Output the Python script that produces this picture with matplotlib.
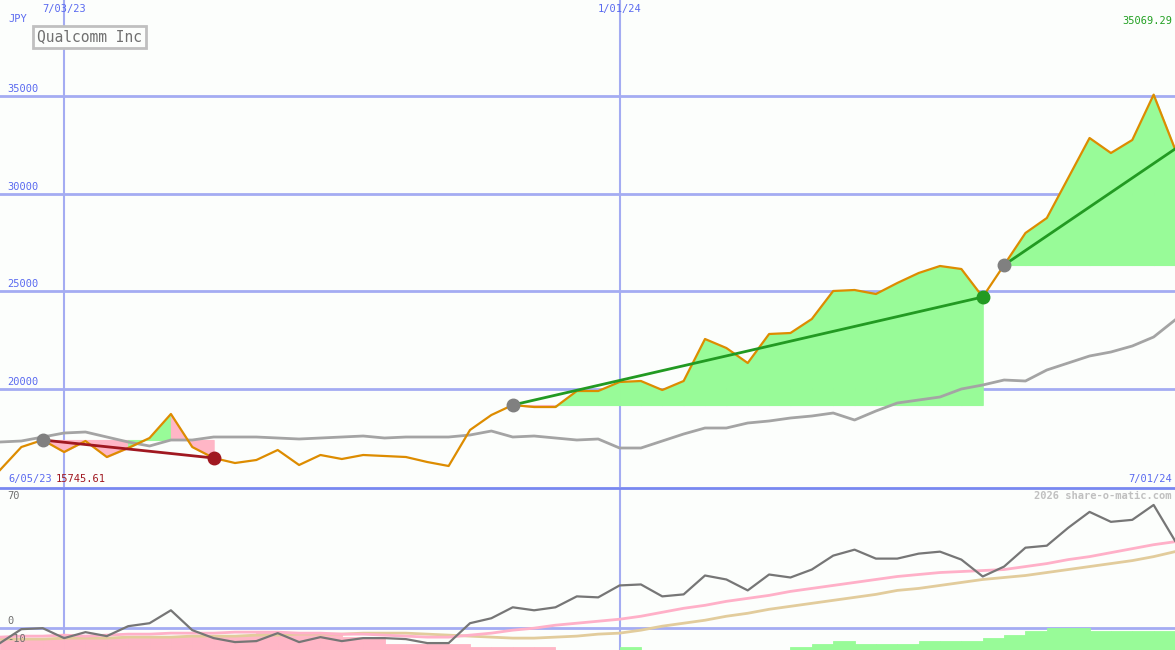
import numpy as np
import matplotlib.pyplot as plt

# weekly closes, week 0 = first visible week
price = [15854, 17032, 17391, 16776, 17339, 16520, 16981, 17493, 18722, 17032,
         16469, 16213, 16367, 16879, 16111, 16623, 16418, 16623, 16572, 16520,
         16264, 16060, 17903, 18670, 19182, 19080, 19080, 19899, 19899, 20360,
         20411, 19950, 20411, 22561, 22100, 21332, 22817, 22868, 23585, 25018,
         25069, 24864, 25427, 25939, 26298, 26144, 24711, 26349, 27987, 28755,
         30802, 32850, 32082, 32748, 35069, 32287]

avg_px = [442, 441, 437, 433, 432, 437, 442, 446, 440, 440, 437, 437, 437, 438,
          439, 438, 437, 436, 438, 437, 437, 437, 435, 431, 437, 436, 438, 440,
          439, 448, 448, 441, 434, 428, 428, 423, 421, 418, 416, 413, 420, 411,
          403, 400, 397, 389, 385, 380, 381, 370, 363, 356, 352, 346, 337, 320]
avg = [35000 - (p - 96) * 51.19 for p in avg_px]

# lower panel
rel_px = [643, 629, 628, 638, 632, 636, 626, 623, 610, 630, 638, 642, 641, 633,
          642, 637, 641, 638, 638, 639, 643, 643, 623, 618, 607, 610, 607, 596,
          597, 585, 584, 596, 594, 575, 579, 590, 574, 577, 569, 555, 549, 558,
          558, 553, 551, 559, 576, 566, 547, 545, 527, 511, 521, 519, 504, 540]
pink_px = [637, 636, 636, 635, 636, 635, 634, 634, 633, 633, 633, 632, 632, 632,
           633, 633, 634, 634, 635, 636, 637, 637, 635, 633, 630, 628, 625, 623,
           621, 619, 616, 612, 608, 605, 601, 598, 595, 591, 588, 585, 582, 579,
           576, 574, 572, 571, 570, 569, 566, 563, 559, 556, 552, 548, 544, 541]
tan_px = [639, 639, 639, 638, 638, 638, 637, 637, 637, 636, 636, 636, 635, 635,
          634, 634, 634, 633, 633, 633, 634, 635, 636, 637, 638, 638, 637, 636,
          634, 633, 630, 626, 623, 620, 616, 613, 609, 606, 603, 600, 597, 594,
          590, 588, 585, 582, 579, 577, 575, 572, 569, 566, 563, 560, 556, 551]
bar_px = [640, 639, 638, 638, 638, 638, 638, 637, 637, 636, 636, 635, 633, 633,
          633, 633, 637, 637, 644, 644, 644, 644, 647, 647, 647, 647, 650, 650,
          650, 647, 650, 650, 650, 650, 650, 650, 650, 647, 644, 641, 644, 644,
          644, 641, 641, 641, 638, 635, 631, 628, 628, 631, 631, 631, 631, 631]
bar_up = [False] * 26 + [True] * 30
rel = [(628 - p) / 1.8 for p in rel_px]
ma1 = [(628 - p) / 1.8 for p in pink_px]
ma2 = [(628 - p) / 1.8 for p in tan_px]
bars = [(628 - p) / 1.8 for p in bar_px]

# trend segments: start week, end week
segments = [(2, 10), (24, 46), (47, 55)]
vlines = [3, 29]
vlabels = ['7/03/23', '1/01/24']

bg = '#fcfefc'
blue = '#a4acf2'
green_fill = '#98fb98'
pink_fill = '#ffb6c6'

fig = plt.figure(figsize=(11.75, 6.5), dpi=100, facecolor=bg)
ax = fig.add_axes([0, 1 - 487 / 650, 1, 487 / 650])
ax2 = fig.add_axes([0, 0, 1, 161 / 650])
x = np.arange(len(price))

for a in (ax, ax2):
    a.set_facecolor(bg)
    a.set_xlim(0, 55)
    for s in a.spines.values():
        s.set_visible(False)
    a.set_xticks([])
    a.set_yticks([])
    for v in vlines:
        a.axvline(v, color=blue, lw=1.5, zorder=1)

ax.set_ylim(14985, 39914)
for lvl in [20000, 25000, 30000, 35000]:
    ax.axhline(lvl, color=blue, lw=2, zorder=1)
    ax.text(7 / 1175 * 55, lvl + 100, str(lvl), color='#5a6af0', fontsize=7.5,
            family='DejaVu Sans Mono', va='bottom')

p = np.array(price, dtype=float)
for s, e in segments:
    base = p[s]
    for i in range(s, e):
        col = green_fill if p[i + 1] > base else pink_fill
        ax.fill_between(x[i:i + 2], p[i:i + 2], base, facecolor=col,
                        edgecolor=col, lw=0.8, zorder=2)

ax.plot(x, avg, color='#a4a4a4', lw=2, zorder=3)
ax.plot(x, price, color='#dd8c00', lw=1.6, zorder=4)

for s, e in segments:
    up = p[e] > p[s]
    lc = '#229a22' if up else '#a01820'
    ax.plot([s, e], [p[s], p[e]], color=lc, lw=2, zorder=5)
    ax.plot(s, p[s], 'o', color='#808080', ms=9, zorder=6)
    if e < 55:
        ax.plot(e, p[e], 'o', color=lc, ms=9, zorder=6)

mono = 'DejaVu Sans Mono'
fig.text(8 / 1175, 1 - 19 / 650, 'JPY', color='#5a6af0', fontsize=7.5,
         family=mono, va='center')
for v, lab in zip(vlines, vlabels):
    px = v / 55 * 1175
    fig.text(px / 1175, 1 - 9 / 650, lab, color='#5a6af0', fontsize=7.5,
             family=mono, ha='center', va='center')
fig.text(1172 / 1175, 1 - 21 / 650, '35069.29', color='#22a022', fontsize=7.5,
         family=mono, ha='right', va='center')
fig.text(37 / 1175, 1 - 37 / 650, 'Qualcomm Inc', color='#707070', fontsize=10.5,
         family=mono, va='center',
         bbox=dict(boxstyle='square,pad=0.25', fc=bg, ec='#c0c0c0', lw=2))
fig.text(8 / 1175, 1 - 479 / 650, '6/05/23', color='#5a6af0', fontsize=7.5,
         family=mono, va='center')
fig.text(56 / 1175, 1 - 479 / 650, '15745.61', color='#a01820', fontsize=7.5,
         family=mono, va='center')
fig.text(1172 / 1175, 1 - 479 / 650, '7/01/24', color='#5a6af0', fontsize=7.5,
         family=mono, va='center', ha='right')

# separator
fig.add_artist(plt.Line2D([0, 1], [1 - 487.5 / 650] * 2, color='#7888f0', lw=2))

ax2.set_ylim(-12.2, 77.8)
ax2.axhline(0, color=blue, lw=2, zorder=1)
bcol = ['#98fb98' if u else '#ffb6c6' for u in bar_up]
ax2.bar(x, np.array(bars) + 12.2, bottom=-12.2, width=1, align='edge',
        color=bcol, edgecolor=bcol, lw=0.6, zorder=2)
ax2.plot(x, ma2, color='#e2cc9c', lw=2, zorder=3)
ax2.plot(x, ma1, color='#ffb0c8', lw=2, zorder=3)
ax2.plot(x, rel, color='#767676', lw=1.6, zorder=4)
for lvl, lab in [(70, '70'), (0, '0'), (-10, '-10')]:
    ax2.text(7 / 1175 * 55, lvl + 1, lab, color='#707070', fontsize=7.5,
             family=mono, va='bottom')
fig.text(1172 / 1175, 1 - 496 / 650, '2026 share-o-matic.com', color='#c0c0c0',
         fontsize=7.5, family=mono, ha='right', va='center', weight='bold')

fig.savefig('out.png', dpi=100, facecolor=bg)
